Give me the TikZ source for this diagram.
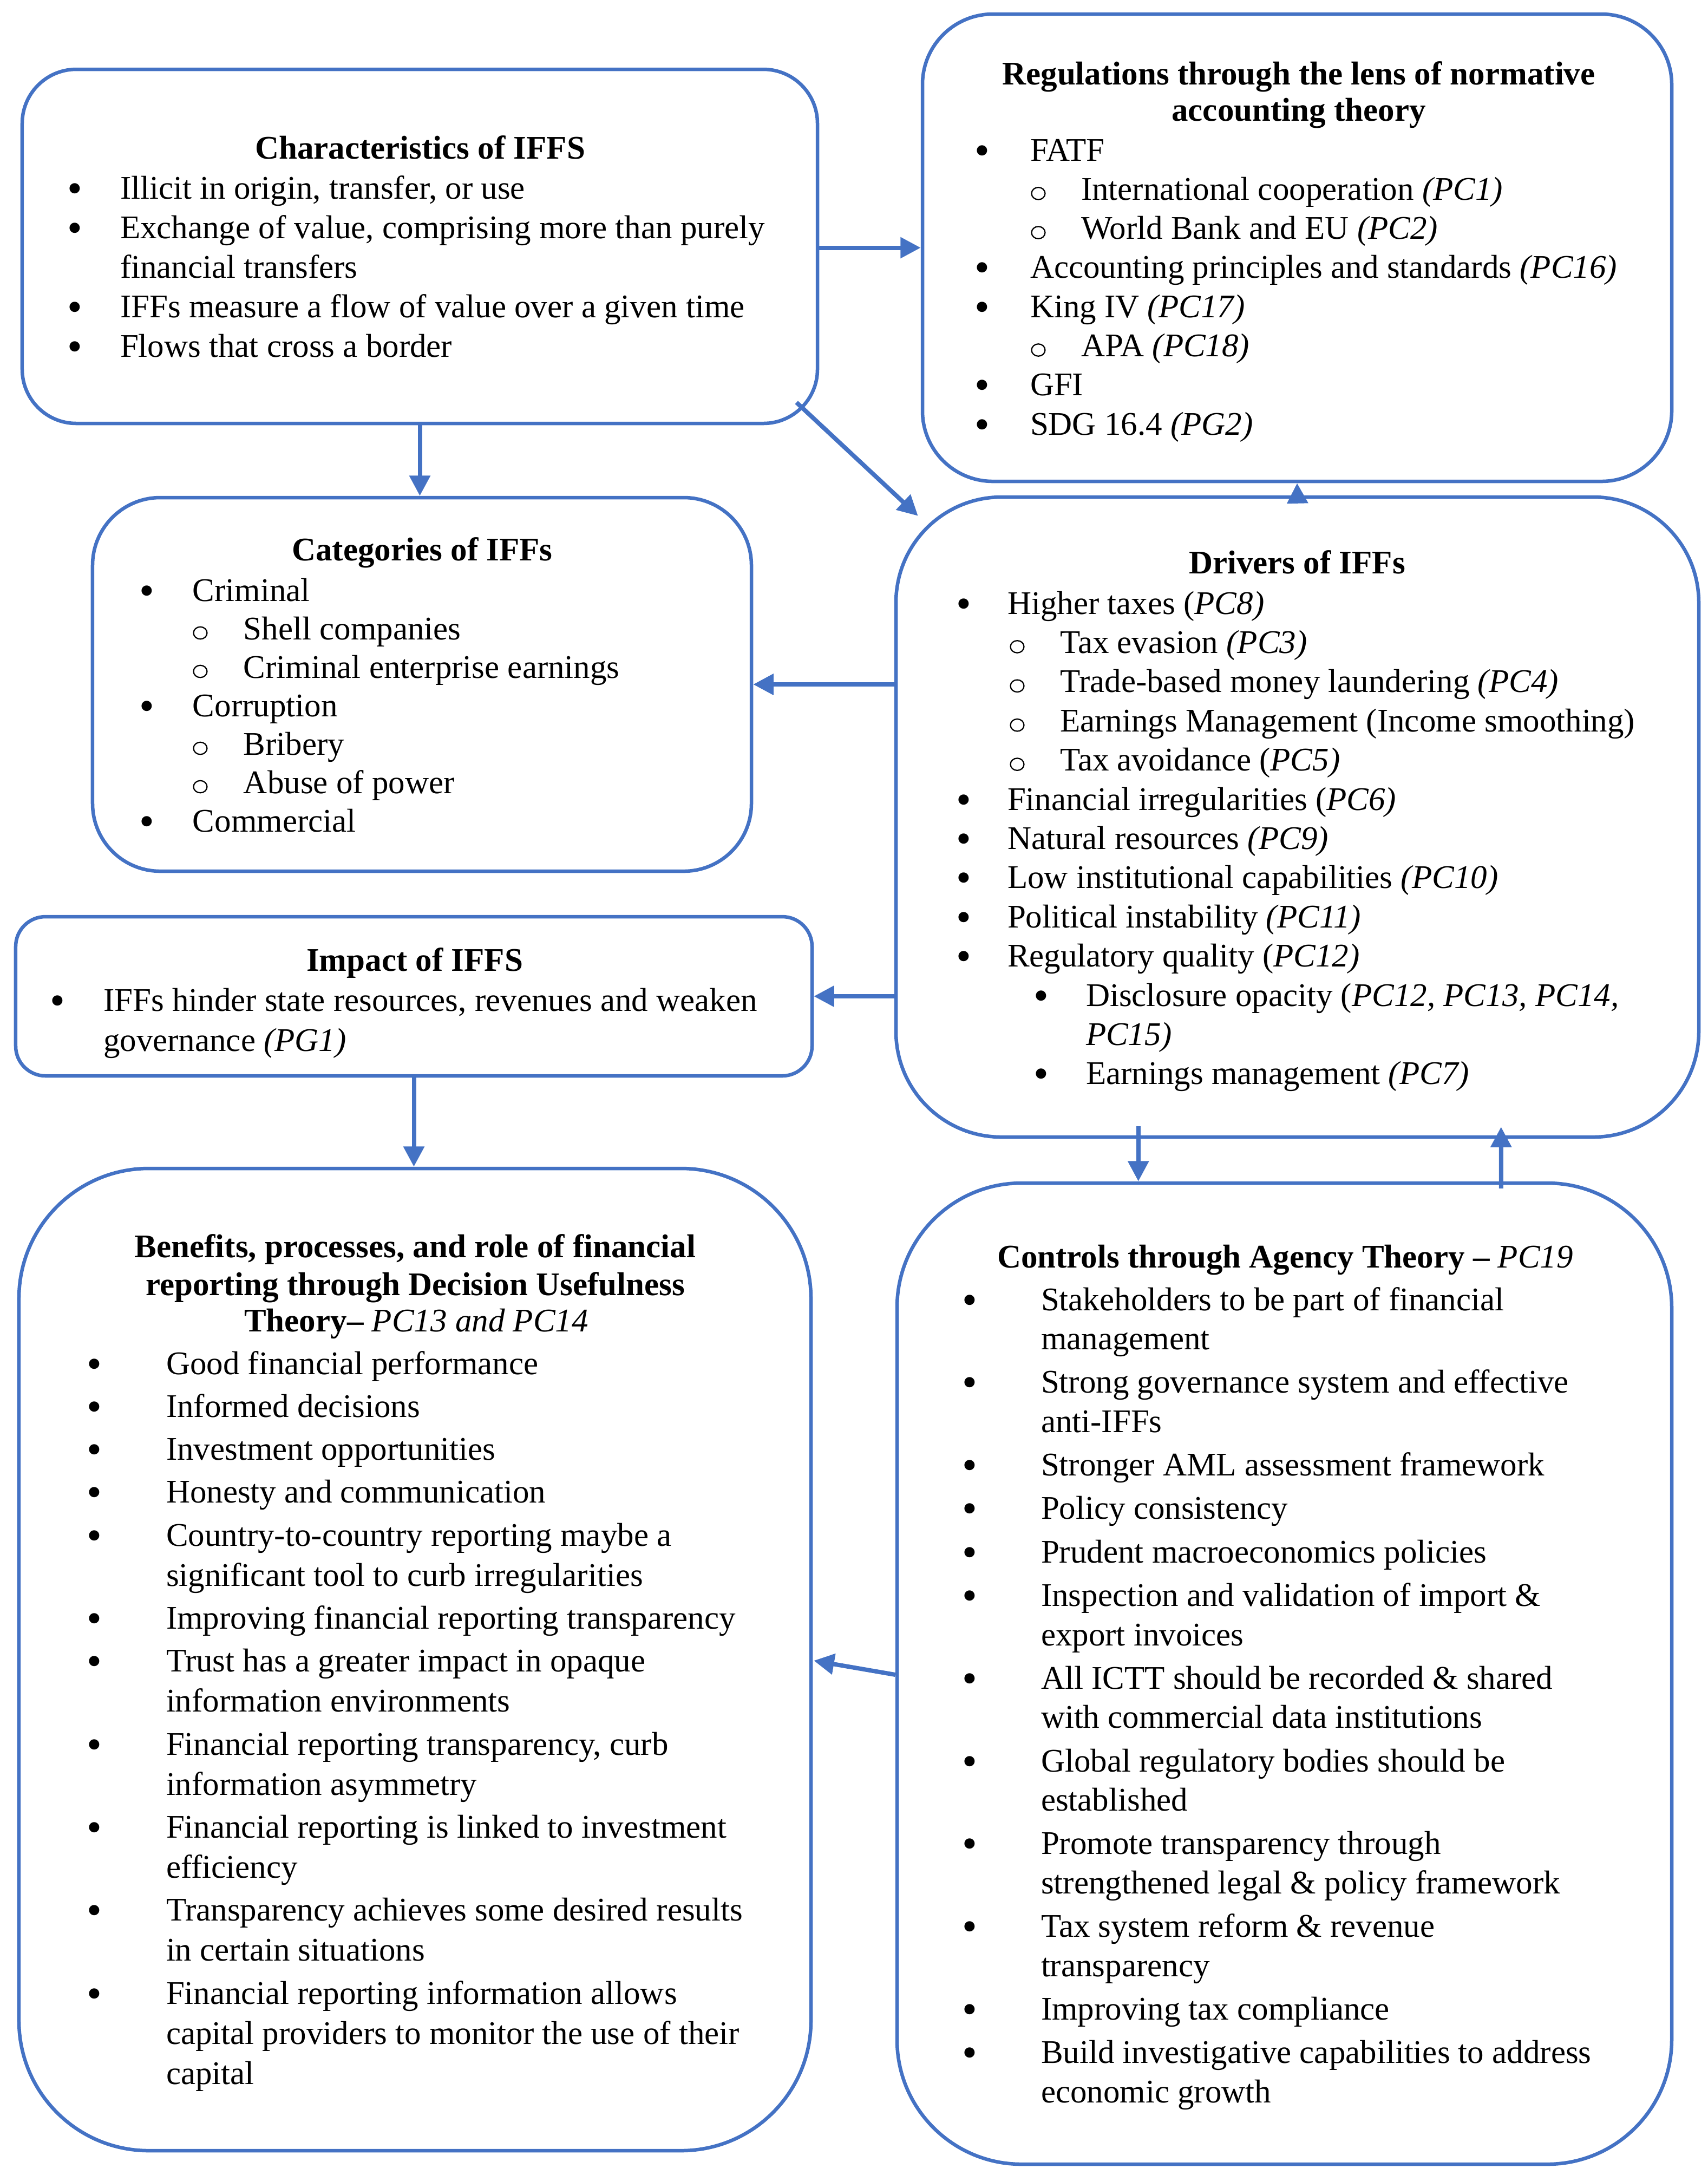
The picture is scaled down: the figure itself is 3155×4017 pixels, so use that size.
\documentclass[tikz,border=0pt]{standalone}
\usepackage{fontspec}
\usepackage{graphicx}
\setmainfont{Liberation Serif}
\usetikzlibrary{arrows.meta,calc}
\definecolor{boxblue}{RGB}{68,114,196}
\newdimen\pxu \pxu=0.2pt
\newcommand\bul{\raisebox{-1.4pt}{\scalebox{1.3}{\textbullet}}}
\newcommand\cir{\tikz[baseline=0pt]\draw[line width=0.45pt] (0pt,2.4pt) ellipse (2.5pt and 2.25pt);}
\newcommand\itm[4]{\hangindent=#2\pxu\hangafter=1\leavevmode\hspace*{#1\pxu}\makebox[0pt]{#3}\hspace*{\dimexpr#2\pxu-#1\pxu\relax}#4\par}
\newcommand\lsp{\spaceskip=3.05pt plus 1pt minus 0.5pt\relax\xspaceskip=3.05pt plus 1pt minus 0.5pt\relax}
\newcommand\lfont[1]{\fontsize{12.2}{#1}\selectfont}
\tikzset{
  box/.style={draw=boxblue, line width=1.3pt, inner sep=0pt},
  lst/.style={anchor=base west, inner sep=0pt, text width=#1, align=left},
  ttl/.style={anchor=base, inner sep=0pt, font=\bfseries\fontsize{12.2}{14.6}\selectfont},
  arr/.style={draw=boxblue, line width=1.6pt, -{Triangle[length=7.5pt,width=7.5pt]}}
}
\begin{document}
\begin{tikzpicture}[x=0.2pt, y=-0.2pt]
\useasboundingbox (0,0) rectangle (3155,4017);
% boxes
\node[box, minimum width=293.8pt, minimum height=130.8pt, rounded corners=20pt] (char) at (775.5,455) {};
\node[box, minimum width=276.8pt, minimum height=172.6pt, rounded corners=26pt] (reg) at (2396,457.5) {};
\node[box, minimum width=243.4pt, minimum height=138pt, rounded corners=25pt] (cat) at (779.5,1264) {};
\node[box, minimum width=296.6pt, minimum height=236.4pt, rounded corners=39pt] (drv) at (2396.5,1509) {};
\node[box, minimum width=294.2pt, minimum height=58.8pt, rounded corners=11pt] (imp) at (764.5,1840) {};
\node[box, minimum width=292.6pt, minimum height=362.8pt, rounded corners=48pt] (ben) at (766.5,3065) {};
\node[box, minimum width=286.2pt, minimum height=362.4pt, rounded corners=46pt] (ctl) at (2372.5,3091) {};
% titles
\node[ttl] (charT) at (776,293) {Characteristics of IFFS};
\node[ttl] (regT1) at (2399,156) {Regulations through the lens of normative};
\node[ttl] (regT2) at (2399,223) {accounting theory};
\node[ttl] (catT) at (780,1035) {Categories of IFFs};
\node[ttl] (drvT) at (2396,1059) {Drivers of IFFs};
\node[ttl] (impT) at (766,1793) {Impact of IFFS};
\node[ttl] (benT1) at (767,2322) {Benefits, processes, and role of financial};
\node[ttl] (benT2) at (767,2392) {reporting through Decision Usefulness};
\node[ttl] (benT3) at (769,2459) {Theory– {\mdseries\itshape PC13 and PC14}};
\node[ttl] (ctlT) at (2374,2341) {Controls through Agency Theory – {\mdseries\itshape PC19}};
% lists
\node[lst=292pt, font={\lfont{14.6}}] (charL) at (41,367) {\lsp
\itm{96}{180}{\bul}{Illicit in origin, transfer, or use}
\itm{96}{180}{\bul}{Exchange of value, comprising more than purely\newline financial transfers}
\itm{96}{180}{\bul}{IFFs measure a flow of value over a given time}
\itm{96}{180}{\bul}{Flows that cross a border}};
\node[lst=275pt, font={\lfont{14.46}}] (regL) at (1704,297) {\lsp
\itm{109}{198}{\bul}{FATF}
\itm{213}{292}{\cir}{International cooperation \textit{(PC1)}}
\itm{213}{292}{\cir}{World Bank and EU \textit{(PC2)}}
\itm{109}{198}{\bul}{Accounting principles and standards \textit{(PC16)}}
\itm{109}{198}{\bul}{King IV \textit{(PC17)}}
\itm{213}{292}{\cir}{APA \textit{(PC18)}}
\itm{109}{198}{\bul}{GFI}
\itm{109}{198}{\bul}{SDG 16.4 \textit{(PG2)}}};
\node[lst=242pt, font={\lfont{14.2}}] (catL) at (171,1110) {\lsp
\itm{99}{184}{\bul}{Criminal}
\itm{198}{278}{\cir}{Shell companies}
\itm{198}{278}{\cir}{Criminal enterprise earnings}
\itm{99}{184}{\bul}{Corruption}
\itm{198}{278}{\cir}{Bribery}
\itm{198}{278}{\cir}{Abuse of power}
\itm{99}{184}{\bul}{Commercial}};
\node[lst=295pt, font={\lfont{14.48}}] (drvL) at (1655,1134) {\lsp
\itm{124}{205}{\bul}{Higher taxes (\textit{PC8)}}
\itm{223}{302}{\cir}{Tax evasion \textit{(PC3)}}
\itm{223}{302}{\cir}{Trade-based money laundering \textit{(PC4)}}
\itm{223}{302}{\cir}{Earnings Management (Income smoothing)}
\itm{223}{302}{\cir}{Tax avoidance (\textit{PC5)}}
\itm{124}{205}{\bul}{Financial irregularities (\textit{PC6)}}
\itm{124}{205}{\bul}{Natural resources \textit{(PC9)}}
\itm{124}{205}{\bul}{Low institutional capabilities \textit{(PC10)}}
\itm{124}{205}{\bul}{Political instability \textit{(PC11)}}
\itm{124}{205}{\bul}{Regulatory quality (\textit{PC12)}}
\itm{267}{350}{\bul}{Disclosure opacity (\textit{PC12, PC13, PC14,}\newline \textit{PC15)}}
\itm{267}{350}{\bul}{Earnings management \textit{(PC7)}}};
\node[lst=293pt, font={\lfont{14.8}}] (impL) at (29,1867) {\lsp
\itm{76}{161}{\bul}{IFFs hinder state resources, revenues and weaken\newline governance \textit{(PG1)}}};
\node[lst=291pt, font={\lfont{14.8}}] (benL) at (35,2538) {\lsp
\setlength{\parskip}{1.06pt}%
\itm{138}{271}{\bul}{Good financial performance}
\itm{138}{271}{\bul}{Informed decisions}
\itm{138}{271}{\bul}{Investment opportunities}
\itm{138}{271}{\bul}{Honesty and communication}
\itm{138}{271}{\bul}{Country-to-country reporting maybe a\newline significant tool to curb irregularities}
\itm{138}{271}{\bul}{Improving financial reporting transparency}
\itm{138}{271}{\bul}{Trust has a greater impact in opaque\newline information environments}
\itm{138}{271}{\bul}{Financial reporting transparency, curb\newline information asymmetry}
\itm{138}{271}{\bul}{Financial reporting is linked to investment\newline efficiency}
\itm{138}{271}{\bul}{Transparency achieves some desired results\newline in certain situations}
\itm{138}{271}{\bul}{Financial reporting information allows\newline capital providers to monitor the use of their\newline capital}};
\node[lst=285pt, font={\lfont{14.5}}] (ctlL) at (1657,2420) {\lsp
\setlength{\parskip}{1.56pt}%
\itm{133}{265}{\bul}{Stakeholders to be part of financial\newline management}
\itm{133}{265}{\bul}{Strong governance system and effective\newline anti-IFFs}
\itm{133}{265}{\bul}{Stronger AML assessment framework}
\itm{133}{265}{\bul}{Policy consistency}
\itm{133}{265}{\bul}{Prudent macroeconomics policies}
\itm{133}{265}{\bul}{Inspection and validation of import \&\newline export invoices}
\itm{133}{265}{\bul}{All ICTT should be recorded \& shared\newline with commercial data institutions}
\itm{133}{265}{\bul}{Global regulatory bodies should be\newline established}
\itm{133}{265}{\bul}{Promote transparency through\newline strengthened legal \& policy framework}
\itm{133}{265}{\bul}{Tax system reform \& revenue\newline transparency}
\itm{133}{265}{\bul}{Improving tax compliance}
\itm{133}{265}{\bul}{Build investigative capabilities to address\newline economic growth}};
% connectors
\draw[arr] (char.east |- reg.west) -- (reg.west);
\draw[arr] (char.south) -- (char.south |- cat.north);
\coordinate (d0) at ($(char.south east)+(-42,-42)$);
\coordinate (d1) at ($(drv.north west)+(44,38)$);
\draw[arr] (d0) -- (d1);
\draw[arr] (drv.north) -- (reg.south);
\draw[arr] (drv.west |- cat.east) -- (cat.east);
\draw[arr] (drv.west |- imp.east) -- (imp.east);
\draw[arr] (imp.south) -- (imp.south |- ben.north);
\coordinate (dc1) at ($(drv.south west)+(451,-23)$);
\draw[arr] (dc1) -- (dc1 |- ctl.north);
\coordinate (dc2) at ($(ctl.north west)+(1119,13)$);
\coordinate (dc3) at ($(drv.south west)+(1121,-22)$);
\draw[arr] (dc2) -- (dc3);
\coordinate (cb0) at ($(ctl.west)+(0,2)$);
\coordinate (cb1) at ($(ben.east)+(2,2)$);
\draw[arr] (cb0) -- (cb1);
\end{tikzpicture}
\end{document}
